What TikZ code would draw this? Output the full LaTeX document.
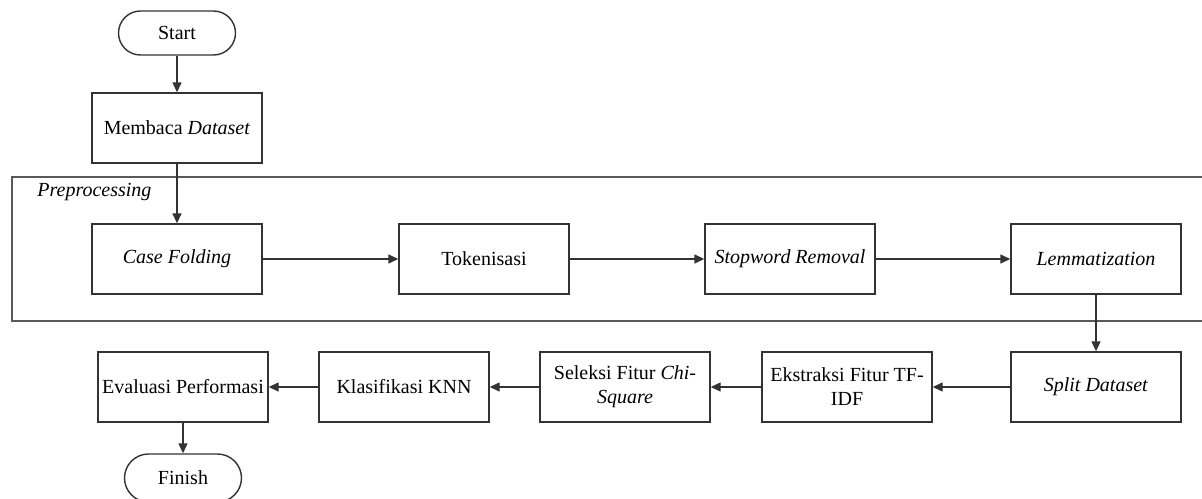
\documentclass[tikz,border=0pt]{standalone}
\usepackage{fontspec}
\setmainfont{Liberation Serif}
\usetikzlibrary{arrows.meta}
\begin{document}
\begin{tikzpicture}[x=0.5pt,y=-0.5pt,
  box/.style={draw=black!80, line width=0.7pt, minimum width=85pt, minimum height=35pt,
    inner sep=1pt, align=center, font=\fontsize{10}{12}\selectfont},
  term/.style={box, rounded corners=11pt, minimum width=58.5pt, minimum height=22pt},
  arr/.style={draw=black!80, line width=0.7pt, -{Triangle[length=5pt,width=4.5pt]}},
  group/.style={draw=black!65, line width=0.9pt}
]
\useasboundingbox (0,0) rectangle (1202,498);
\fill[white] (0,0) rectangle (1202,498);
% preprocessing group
\draw[group] (12,177) rectangle (1212,321);
\node[anchor=west, font=\fontsize{10}{12}\selectfont\itshape, inner sep=0pt] (pre) at (37,192) {Preprocessing};
% nodes
\node[term] (start) at (177,33) {Start};
\node[box] (mem) at (177,128) {Membaca \textit{Dataset}};
\node[box] (case) at (177,259) {\textit{Case Folding}};
\node[box] (tok) at (484,259) {Tokenisasi};
\node[box] (stop) at (790,259) {\textit{Stopword Removal}};
\node[box] (lem) at (1096,259) {\textit{Lemmatization}};
\node[box] (split) at (1096,387) {\textit{Split Dataset}};
\node[box] (ekst) at (847,387) {Ekstraksi Fitur TF-\\IDF};
\node[box] (sel) at (625,387) {Seleksi Fitur \textit{Chi-}\\\textit{Square}};
\node[box] (kla) at (404,387) {Klasifikasi KNN};
\node[box] (eva) at (183,387) {Evaluasi Performasi};
\node[term, minimum height=24pt, rounded corners=12pt] (fin) at (183,478) {Finish};
% connectors
\draw[arr] (start) -- (mem);
\draw[arr] (mem) -- (case);
\draw[arr] (case) -- (tok);
\draw[arr] (tok) -- (stop);
\draw[arr] (stop) -- (lem);
\draw[arr] (lem) -- (split);
\draw[arr] (split) -- (ekst);
\draw[arr] (ekst) -- (sel);
\draw[arr] (sel) -- (kla);
\draw[arr] (kla) -- (eva);
\draw[arr] (eva) -- (fin);
\end{tikzpicture}
\end{document}
